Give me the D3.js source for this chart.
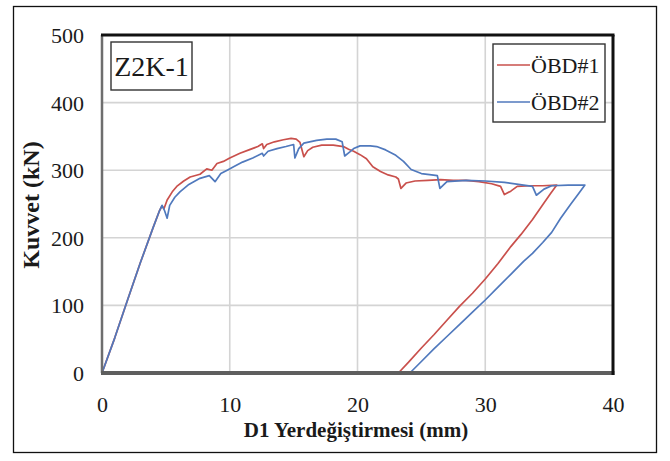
<!DOCTYPE html>
<html>
<head>
<meta charset="utf-8">
<script src="https://cdn.jsdelivr.net/npm/d3@7"></script>
<style>
  html, body { margin: 0; padding: 0; background: #fff; }
  svg { display: block; }
</style>
</head>
<body>
<svg id="chart" width="670" height="461"></svg>
<script>
// Load–displacement curves for specimen Z2K-1 (two displacement gauges)
const obd1Disp = [0, 1, 2, 3, 4, 4.5, 4.7, 4.85, 5.1, 5.5, 5.85, 6.4, 6.9, 7.67, 8.2, 8.6, 9, 9.5, 10, 10.8, 11.5, 12.2, 12.55, 12.65, 12.9, 13.5, 14.2, 14.8, 15.2, 15.5, 15.8, 16.1, 16.5, 17.2, 18.1, 18.9, 19.3, 19.7, 20.2, 20.7, 21.2, 21.8, 22.4, 23.0, 23.2, 23.4, 23.8, 24.5, 25.5, 26.5, 27.5, 28.5, 29.5, 30.5, 31.2, 31.5, 32.0, 32.5, 33.5, 34.5, 35.6,
  35.1, 34.5, 33.7, 32.8, 32, 31, 30, 29, 28, 27, 26, 25, 24, 23.2];
const obd1Load = [0, 52, 108, 163, 215, 240, 247, 243, 256, 268, 276, 284, 290, 294, 302, 300, 310, 313, 318, 325, 330, 335, 339, 332, 338, 342, 345, 347, 346, 341, 320, 329, 334, 337, 337, 335, 331, 328, 323, 317, 305, 298, 293, 290, 287, 273, 281, 284, 285, 286, 285, 285, 283, 280, 276, 264, 269, 276, 277, 277, 278,
  265, 249, 227, 205, 187, 162, 139, 118, 99, 78, 57, 37, 16, 0];

const obd2Disp = [0, 1, 2, 3, 4, 4.5, 4.7, 4.9, 5.1, 5.3, 5.7, 6.1, 6.8, 7.67, 8.4, 8.85, 9.3, 9.8, 10.3, 11, 11.8, 12.55, 12.65, 13, 13.7, 14.4, 15.0, 15.1, 15.4, 15.8, 16.8, 17.6, 18.3, 18.8, 19.0, 19.4, 19.7, 20.2, 21.0, 21.5, 22.2, 23.0, 23.6, 24.2, 25.0, 25.8, 26.25, 26.45, 27.0, 28.5, 30, 31.5, 33, 33.7, 34.0, 34.6, 35.2, 36.5, 37.8,
  37.3, 36.7, 35.9, 35.2, 34.5, 33.7, 33, 32, 31, 30, 29, 28, 27, 26, 25, 24.1];
const obd2Load = [0, 52, 108, 163, 215, 240, 248, 240, 229, 248, 260, 268, 279, 288, 292, 283, 295, 300, 305, 312, 318, 325, 321, 328, 332, 335, 338, 318, 332, 340, 344, 346, 346, 342, 321, 327, 332, 336, 336, 335, 330, 322, 313, 301, 295, 293, 292, 273, 283, 285, 284, 282, 278, 276, 263, 272, 277, 278, 278,
  265, 250, 229, 208, 193, 177, 165, 146, 127, 108, 90, 72, 54, 36, 17, 0];

const seriesNames = ["ÖBD#1", "ÖBD#2"];
const seriesColors = ["#c9504c", "#5079bd"];
const xTicks = [0, 10, 20, 30, 40];
const yTicks = [0, 100, 200, 300, 400, 500];
const xTitle = "D1 Yerdeğiştirmesi (mm)";
const yTitle = "Kuvvet (kN)";
const specimen = "Z2K-1";

const SERIF = "'Liberation Serif'";
const INK = "#1a1a1a";

const svg = d3.select("#chart");
const plot = { left: 102, right: 613, top: 35, bottom: 373 };

const x = d3.scaleLinear().domain([0, 40]).range([plot.left, plot.right]);
const y = d3.scaleLinear().domain([0, 500]).range([plot.bottom, plot.top]);

// outer frame
svg.append("rect")
  .attr("x", 13.5).attr("y", 6.5).attr("width", 643).attr("height", 446)
  .attr("fill", "none").attr("stroke", "#111").attr("stroke-width", 1.3);

// gridlines
svg.append("g").selectAll("line").data(xTicks.slice(1, -1)).join("line")
  .attr("x1", d => x(d)).attr("x2", d => x(d))
  .attr("y1", plot.top).attr("y2", plot.bottom)
  .attr("stroke", "#d4d4d4").attr("stroke-width", 1.6);
svg.append("g").selectAll("line").data(yTicks.slice(1, -1)).join("line")
  .attr("x1", plot.left).attr("x2", plot.right)
  .attr("y1", d => y(d)).attr("y2", d => y(d))
  .attr("stroke", "#d4d4d4").attr("stroke-width", 1.6);

// axes (labels only; the frame is drawn separately)
const xAxis = svg.append("g").attr("transform", `translate(0,${plot.bottom})`)
  .call(d3.axisBottom(x).tickValues(xTicks).tickSize(0).tickPadding(0));
xAxis.attr("font-family", null).attr("font-size", null);
xAxis.select(".domain").remove();
xAxis.selectAll("text").attr("y", 39).attr("dy", 0)
  .attr("fill", INK).style("font-size", "22px").style("font-family", SERIF);

const yAxis = svg.append("g").attr("transform", `translate(${plot.left},0)`)
  .call(d3.axisLeft(y).tickValues(yTicks).tickSize(0).tickPadding(0));
yAxis.attr("font-family", null).attr("font-size", null);
yAxis.select(".domain").remove();
yAxis.selectAll("text").attr("x", -18).attr("dy", "0.34em")
  .attr("fill", INK).style("font-size", "22px").style("font-family", SERIF);

// curves
const line = d3.line().x(d => x(d[0])).y(d => y(d[1]));
const series = [
  d3.zip(obd1Disp, obd1Load),
  d3.zip(obd2Disp, obd2Load)
];
svg.append("g").selectAll("path").data(series).join("path")
  .attr("d", line)
  .attr("fill", "none")
  .attr("stroke", (d, i) => seriesColors[i])
  .attr("stroke-width", 1.7)
  .attr("stroke-linejoin", "round");

// plot-area border
svg.append("line").attr("x1", plot.left).attr("x2", plot.left)
  .attr("y1", plot.top).attr("y2", plot.bottom)
  .attr("stroke", "#6e6e6e").attr("stroke-width", 2.5);
svg.append("line").attr("x1", plot.left - 1).attr("x2", plot.right + 1.5)
  .attr("y1", plot.bottom).attr("y2", plot.bottom)
  .attr("stroke", "#5e5e5e").attr("stroke-width", 4);
svg.append("line").attr("x1", plot.left - 1).attr("x2", plot.right + 1.5)
  .attr("y1", plot.top).attr("y2", plot.top)
  .attr("stroke", "#111").attr("stroke-width", 3);
svg.append("line").attr("x1", plot.right).attr("x2", plot.right)
  .attr("y1", plot.top).attr("y2", plot.bottom + 2)
  .attr("stroke", "#111").attr("stroke-width", 3);

// specimen label
svg.append("rect").attr("x", 111).attr("y", 42).attr("width", 81).attr("height", 48)
  .attr("fill", "#fff").attr("stroke", "#333").attr("stroke-width", 1.4);
svg.append("text").attr("x", 151.5).attr("y", 76).attr("text-anchor", "middle")
  .attr("fill", INK).style("font-family", SERIF)
  .style("font-size", "28px").text(specimen);

// legend
const legend = svg.append("g");
legend.append("rect").attr("x", 493).attr("y", 44).attr("width", 112).attr("height", 78)
  .attr("fill", "#fff").attr("stroke", "#333").attr("stroke-width", 1.4);
const items = legend.selectAll("g.item").data(seriesNames).join("g")
  .attr("class", "item")
  .attr("transform", (d, i) => `translate(0,${65 + i * 37})`);
items.append("line").attr("x1", 497).attr("x2", 530).attr("y1", 0).attr("y2", 0)
  .attr("stroke", (d, i) => seriesColors[i]).attr("stroke-width", 1.7);
items.append("text").attr("x", 531).attr("y", 8)
  .attr("fill", INK).style("font-family", SERIF)
  .style("font-size", "22px").text(d => d);

// axis titles
svg.append("text").attr("x", 356).attr("y", 437).attr("text-anchor", "middle")
  .attr("fill", INK).style("font-family", SERIF)
  .style("font-size", "21px").style("font-weight", "bold").text(xTitle);
svg.append("text").attr("transform", "translate(39,205) rotate(-90)")
  .attr("text-anchor", "middle")
  .attr("fill", INK).style("font-family", SERIF)
  .style("font-size", "24px").style("font-weight", "bold").text(yTitle);
</script>
</body>
</html>
